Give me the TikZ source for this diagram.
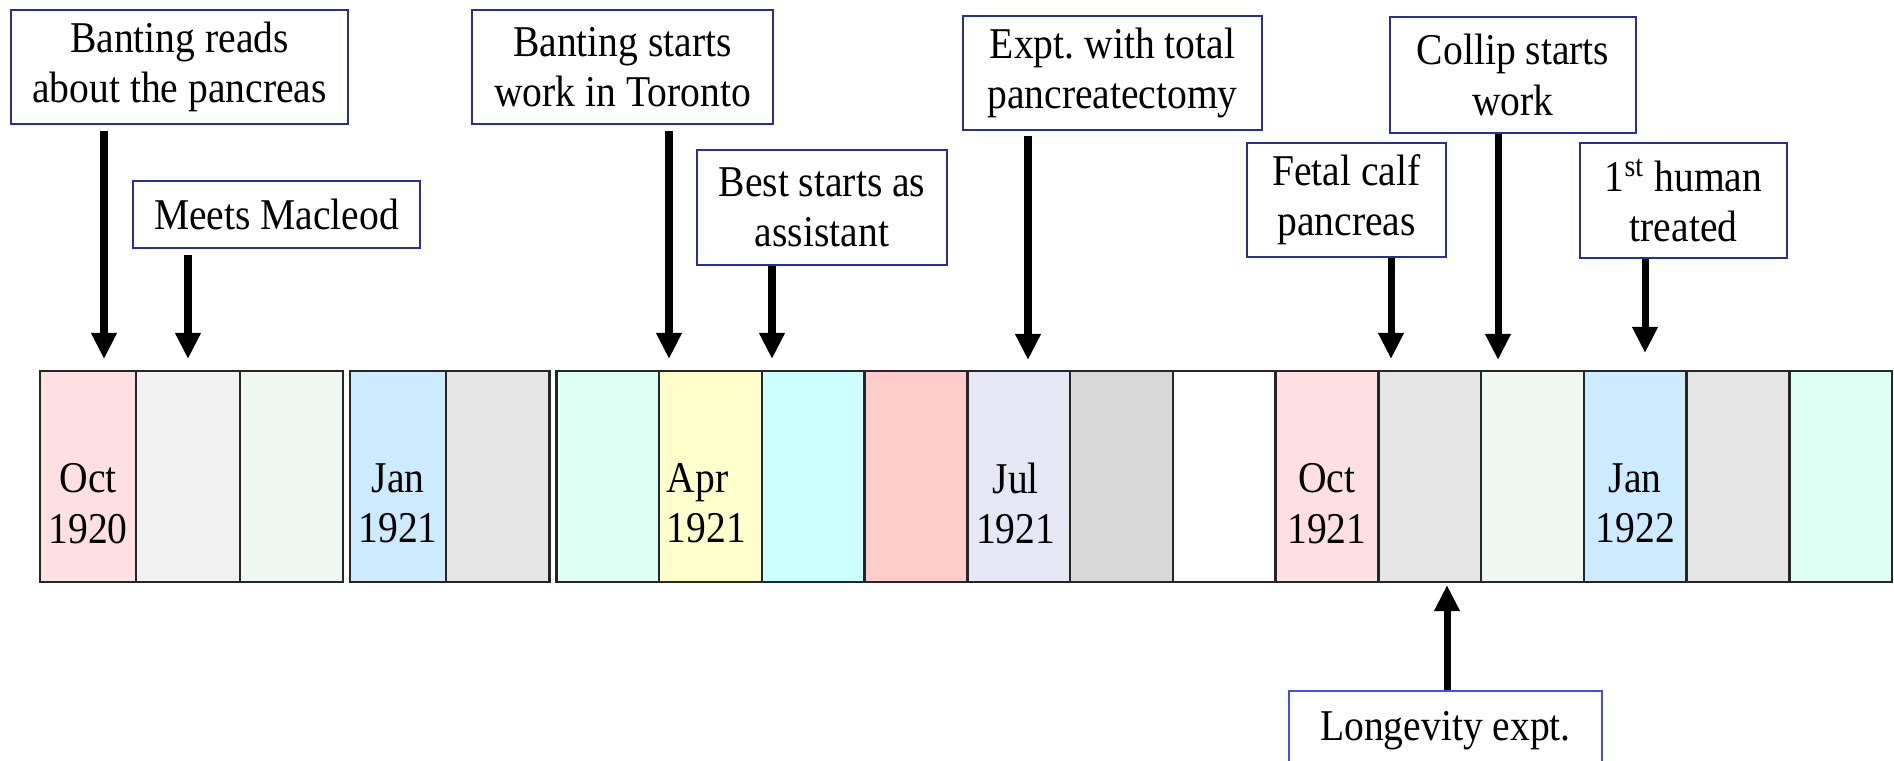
\documentclass[tikz,border=0pt]{standalone}
\usepackage{fontspec}
\setmainfont{Liberation Serif}[FakeStretch=0.9]
\usetikzlibrary{arrows.meta, positioning}
\definecolor{boxblue}{RGB}{45,45,150}
\definecolor{longblue}{RGB}{75,75,235}
\definecolor{octpink}{RGB}{255,224,226}
\definecolor{lightgray}{RGB}{242,242,242}
\definecolor{midgray}{RGB}{229,229,229}
\definecolor{darkgray}{RGB}{216,216,216}
\definecolor{palegreen}{RGB}{238,247,241}
\definecolor{janblue}{RGB}{204,235,255}
\definecolor{mint}{RGB}{221,255,244}
\definecolor{aprYellow}{RGB}{255,255,204}
\definecolor{paleCyan}{RGB}{204,255,255}
\definecolor{rosepink}{RGB}{255,204,204}
\definecolor{lavender}{RGB}{230,230,245}

\begin{document}
\begin{tikzpicture}[
  x=0.01cm, y=-0.01cm,
  every node/.style={font=\fontsize{12.5}{14.3}\selectfont},
  evbox/.style={draw=boxblue,line width=0.7pt,fill=white,align=center,
    inner sep=0pt},
  month/.style={draw=black!85,line width=0.7pt,minimum height=2.11cm,
    minimum width=1.027cm,inner sep=0pt,outer sep=0pt},
  mlab/.style={align=center,inner sep=0pt},
  arr/.style={-{Triangle[length=0.26cm,width=0.24cm]},line width=2pt}
]
\useasboundingbox (0,0) rectangle (1894,760);
\clip (0,0) rectangle (1894,760);

% Months, first strip
\node[month,fill=octpink,minimum width=0.96cm] (c1) at (88,476.5) {};
\node[month,fill=lightgray,minimum width=1.04cm,right=0pt of c1] (c2) {};
\node[month,fill=palegreen,minimum width=1.03cm,right=0pt of c2] (c3) {};
\node[month,fill=janblue,minimum width=0.96cm,right=0.07cm of c3] (c4) {};
\node[month,fill=midgray,minimum width=1.03cm,right=0pt of c4] (c5) {};

% Months, second strip
\node[month,fill=mint,right=0.07cm of c5]      (c6)  {};
\node[month,fill=aprYellow,right=0pt of c6]    (c7)  {};
\node[month,fill=paleCyan,right=0pt of c7]     (c8)  {};
\node[month,fill=rosepink,right=0pt of c8]     (c9)  {};
\node[month,fill=lavender,right=0pt of c9]     (c10) {};
\node[month,fill=darkgray,right=0pt of c10]    (c11) {};
\node[month,fill=white,right=0pt of c11]       (c12) {};
\node[month,fill=octpink,right=0pt of c12]     (c13) {};
\node[month,fill=midgray,right=0pt of c13]     (c14) {};
\node[month,fill=palegreen,right=0pt of c14]   (c15) {};
\node[month,fill=janblue,right=0pt of c15]     (c16) {};
\node[month,fill=midgray,right=0pt of c16]     (c17) {};
\node[month,fill=mint,right=0pt of c17]        (c18) {};

\node[mlab] (oct20) at ([yshift=-0.27cm]c1.center)  {Oct\\1920};
\node[mlab] (jan21) at ([yshift=-0.27cm]c4.center)  {Jan\\1921};
\node[mlab,align=left] (apr21) at ([xshift=-0.04cm,yshift=-0.27cm]c7.center) {Apr\\1921};
\node[mlab] (jul21) at ([xshift=-0.03cm,yshift=-0.27cm]c10.center) {Jul\\1921};
\node[mlab] (oct21) at ([yshift=-0.27cm]c13.center) {Oct\\1921};
\node[mlab] (jan22) at ([yshift=-0.27cm]c16.center) {Jan\\1922};

% Events
\node[evbox,minimum width=3.37cm,minimum height=1.14cm] (reads)
  at (179.5,67) {Banting reads\\about the pancreas};
\node[evbox,minimum width=2.87cm,minimum height=0.67cm] (macleod)
  at (276.5,214.5) {Meets Macleod};
\node[evbox,minimum width=3.01cm,minimum height=1.14cm] (toronto)
  at (622.5,67) {Banting starts\\work in Toronto};
\node[evbox,minimum width=2.50cm,minimum height=1.15cm] (best)
  at (822,207.5) {Best starts as\\assistant};
\node[evbox,minimum width=2.99cm,minimum height=1.14cm] (expt)
  at (1112.5,73) {Expt.\ with total\\pancreatectomy};
\node[evbox,minimum width=1.99cm,minimum height=1.14cm] (fetal)
  at (1346.5,200) {Fetal calf\\pancreas};
\node[evbox,minimum width=2.46cm,minimum height=1.16cm] (collip)
  at (1513,75) {Collip starts\\work};
\node[evbox,minimum width=2.07cm,minimum height=1.15cm] (human)
  at (1683.5,200.5) {1\textsuperscript{st} human\\treated};
\node[evbox,draw=longblue,minimum width=3.13cm,minimum height=0.8cm] (longev)
  at (1445.5,731) {Longevity expt.};

% Arrow tips
\coordinate (treads)   at (104,359);
\coordinate (tmacleod) at (188,359);
\coordinate (ttoronto) at (669,359);
\coordinate (tbest)    at (772,359);
\coordinate (texpt)    at (1028,360);
\coordinate (tfetal)   at (1391,359);
\coordinate (tcollip)  at (1498,360);
\coordinate (thuman)   at (1645,353);
\coordinate (tlongev)  at (1447,585);

\draw[arr,shorten <=0.06cm] (reads.south -| treads) -- (treads);
\draw[arr,shorten <=0.06cm] (macleod.south -| tmacleod) -- (tmacleod);
\draw[arr,shorten <=0.06cm] (toronto.south -| ttoronto) -- (ttoronto);
\draw[arr] (best.south -| tbest) -- (tbest);
\draw[arr,shorten <=0.05cm] (expt.south -| texpt) -- (texpt);
\draw[arr] (fetal.south -| tfetal) -- (tfetal);
\draw[arr] (collip.south -| tcollip) -- (tcollip);
\draw[arr] (human.south -| thuman) -- (thuman);

% Longevity points up
\draw[arr] (longev.north -| tlongev) -- (tlongev);

\end{tikzpicture}
\end{document}
